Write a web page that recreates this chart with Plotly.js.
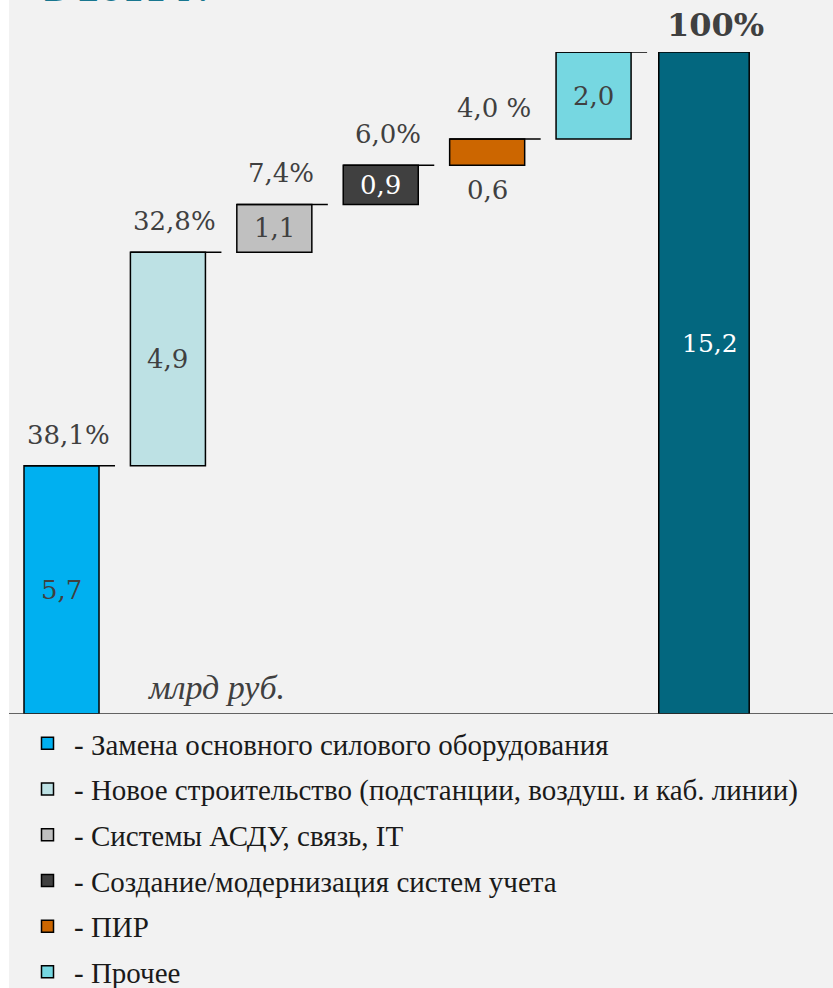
<!DOCTYPE html>
<html>
<head>
<meta charset="utf-8">
<script src="https://cdn.plot.ly/plotly-3.0.1.min.js"></script>
<style>
  html, body { margin: 0; padding: 0; background: #f2f2f2; }
  #chart { width: 833px; height: 988px; }
</style>
</head>
<body>
<div id="chart"></div>
<script>
// ---- data ----
const categories = [
  "Замена основного силового оборудования",
  "Новое строительство (подстанции, воздуш. и каб. линии)",
  "Системы АСДУ, связь, IT",
  "Создание/модернизация систем учета",
  "ПИР",
  "Прочее"
];
const values = [5.7, 4.9, 1.1, 0.9, 0.6, 2.0];
const valueLabels = ["5,7", "4,9", "1,1", "0,9", "0,6", "2,0"];
const shareLabels = ["38,1%", "32,8%", "7,4%", "6,0%", "4,0 %", "11,7%"];
const totalValue = 15.2;
const totalLabel = "15,2";
const totalShareLabel = "100%";
const unitLabel = "млрд руб.";
const titleText = "в 2011 г.";

// ---- style ----
const barColors = ["#00b0f0", "#bde1e4", "#c0c0c0", "#404040", "#cc6600", "#76d7e1"];
const totalColor = "#03677f";
const labelColors = ["#404040", "#404040", "#404040", "#ffffff", "#404040", "#404040"];
const numFont = "DejaVu Serif";
const W = 833, H = 988;
const mT = 52, mB = 274;
const plotH = H - mT - mB;
const barW = 0.705, totalW = 0.85;
const xRange = [-0.578, 7.25];
const pxPerX = W / (xRange[1] - xRange[0]);

// cumulative bases
const bases = [];
let acc = 0;
values.forEach(v => { bases.push(acc); acc += v; });

const traces = values.map((v, i) => ({
  type: "bar",
  x: [i],
  y: [v],
  base: [bases[i]],
  width: [barW],
  name: "- " + categories[i],
  legendgroup: "g" + i,
  marker: { color: barColors[i], line: { color: "#000", width: 1.5 } },
  hoverinfo: "skip"
}));
traces.push({
  type: "bar",
  x: [values.length],
  y: [totalValue],
  base: [0],
  width: [totalW],
  offset: [-totalW / 2 + 4 / pxPerX],
  name: "total",
  showlegend: false,
  marker: { color: totalColor, line: { color: "#000", width: 1.5 } },
  hoverinfo: "skip"
});

const annotations = [];
values.forEach((v, i) => {
  const top = bases[i] + v;
  annotations.push({
    x: i, y: top, xref: "x", yref: "y", text: shareLabels[i], showarrow: false,
    xanchor: "center", xshift: 7, yshift: 31, yanchor: "middle",
    font: { family: numFont, size: 26, color: "#404040" }
  });
  const small = v < 0.8;
  annotations.push({
    x: i, y: small ? bases[i] : bases[i] + v / 2, xref: "x", yref: "y",
    text: valueLabels[i], showarrow: false, xanchor: "center",
    yanchor: "middle", yshift: small ? -25 : 0,
    font: { family: numFont, size: 26, color: labelColors[i] }
  });
});
annotations.push({
  x: values.length, y: totalValue, xref: "x", yref: "y", text: "<b>" + totalShareLabel + "</b>",
  showarrow: false, xanchor: "center", xshift: 16, yshift: 27, yanchor: "middle",
  font: { family: numFont, size: 32, color: "#404040" }
});
annotations.push({
  x: values.length, y: totalValue / 2, xref: "x", yref: "y", text: totalLabel,
  showarrow: false, xanchor: "center", xshift: 10, yshift: 40, yanchor: "middle",
  font: { family: numFont, size: 25, color: "#ffffff" }
});
annotations.push({
  x: 216 / W, xref: "paper", xanchor: "center", y: 0, yref: "y", yshift: 27,
  text: "<i>" + unitLabel + "</i>",
  showarrow: false, yanchor: "middle",
  font: { family: "Liberation Serif", size: 34, color: "#404040" }
});
annotations.push({
  x: 42 / W, xref: "paper", xanchor: "left",
  y: (plotH + mT - 11) / plotH, yref: "paper", yanchor: "bottom",
  text: "<b>" + titleText + "</b>", showarrow: false,
  font: { family: numFont, size: 32, color: "#18768f" }
});

const shapes = [];
// white stripe on the left edge
shapes.push({ type: "rect", xref: "paper", yref: "paper", x0: 0, x1: 9 / W, y0: -1, y1: 2,
  fillcolor: "#ffffff", line: { width: 0 }, layer: "below" });
// connectors
values.forEach((v, i) => {
  const top = bases[i] + v;
  shapes.push({ type: "line", xref: "x", yref: "y",
    x0: i - barW / 2, x1: i + barW / 2 + 16 / pxPerX, y0: top, y1: top,
    line: { color: "#000", width: 1.5 } });
});
// baseline
shapes.push({ type: "line", xref: "paper", yref: "y", x0: 9 / W, x1: 1, y0: 0, y1: 0,
  line: { color: "#333", width: 1.5 } });

const layout = {
  width: W, height: H,
  margin: { l: 0, r: 0, t: mT, b: mB, autoexpand: false },
  paper_bgcolor: "#f2f2f2",
  plot_bgcolor: "rgba(0,0,0,0)",
  barmode: "overlay",
  xaxis: { range: xRange, visible: false, fixedrange: true },
  yaxis: { range: [0, totalValue], visible: false, fixedrange: true },
  showlegend: true,
  legend: {
    x: 21 / W, xanchor: "left", y: -4 / plotH, yanchor: "top",
    itemwidth: 43, tracegroupgap: 5, traceorder: "grouped",
    bgcolor: "rgba(0,0,0,0)",
    font: { family: "Liberation Serif", size: 29, color: "#1a1a1a" }
  },
  annotations: annotations,
  shapes: shapes
};

Plotly.newPlot("chart", traces, layout, { displayModeBar: false, staticPlot: true });
</script>
</body>
</html>
